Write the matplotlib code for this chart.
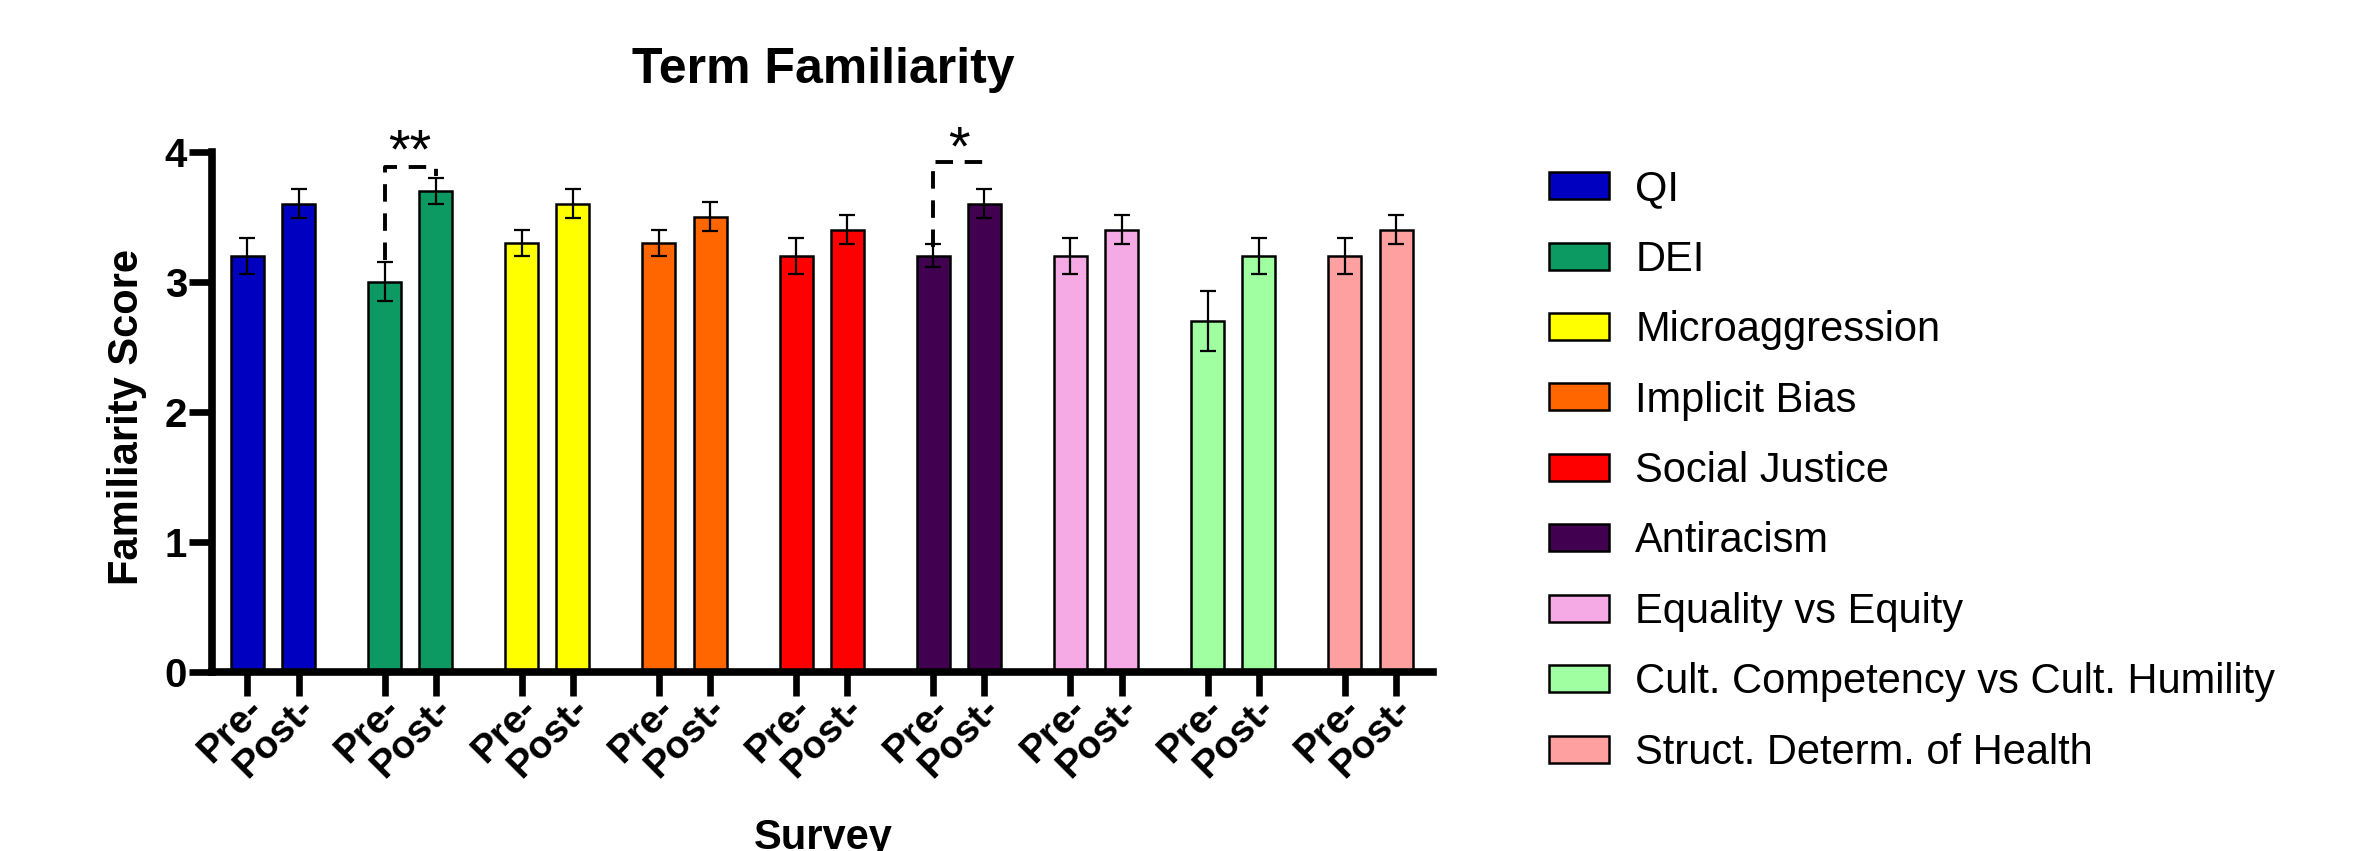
import matplotlib
matplotlib.use("Agg")
import matplotlib.pyplot as plt
from matplotlib.patches import Patch
from matplotlib.transforms import ScaledTranslation
import numpy as np

# ---------------- data ----------------
terms = ["QI", "DEI", "Microaggression", "Implicit Bias", "Social Justice",
         "Antiracism", "Equality vs Equity", "Cult. Competency vs Cult. Humility",
         "Struct. Determ. of Health"]
colors = ["#0000C0", "#0C9A62", "#FFFF00", "#FF6600", "#FF0000",
          "#420050", "#F5AAE5", "#A0FFA0", "#FFA0A0"]
pre_means = [3.2, 3.0, 3.3, 3.3, 3.2, 3.2, 3.2, 2.7, 3.2]
pre_err = [0.14, 0.15, 0.10, 0.10, 0.14, 0.09, 0.14, 0.23, 0.14]
post_means = [3.6, 3.7, 3.6, 3.5, 3.4, 3.6, 3.4, 3.2, 3.4]
post_err = [0.11, 0.10, 0.11, 0.11, 0.11, 0.11, 0.11, 0.14, 0.11]
tick_names = ["Pre-", "Post-"]
yticks = [0, 1, 2, 3, 4]
# significance brackets: group index, left bottom, top, right bottom, label
sig_groups = [1, 5]
sig_left = [3.17, 3.27]
sig_top = [3.88, 3.92]
sig_right = [3.81, 3.86]
sig_star_y = [3.88, 3.90]
sig_labels = ["**", "*"]

# ---------------- figure ----------------
plt.rcParams['font.family'] = ['Liberation Sans', 'DejaVu Sans']
fig = plt.figure(figsize=(23.53, 8.51), dpi=100)
ax = fig.add_axes([0.0901, 0.2107, 0.5189, 0.611])

n = len(terms)
x = np.arange(n)
off = 0.1866
bw = 0.2405
x_pre = x - off
x_post = x + off

err_kw = dict(ecolor="black", elinewidth=1.6, capsize=5.8, capthick=1.6)
ax.bar(x_pre, pre_means, width=bw, color=colors, edgecolor="black",
       linewidth=1.8, yerr=pre_err, error_kw=err_kw, zorder=2)
ax.bar(x_post, post_means, width=bw, color=colors, edgecolor="black",
       linewidth=1.8, yerr=post_err, error_kw=err_kw, zorder=2)

ax.set_xlim(-0.444, 8.456)
ax.set_ylim(0, 4)

for s in ["top", "right"]:
    ax.spines[s].set_visible(False)
for s in ["left", "bottom"]:
    ax.spines[s].set_linewidth(5.5)
ax.spines["left"].set_bounds(0, 4)

ax.set_yticks(yticks)
ax.set_yticklabels([str(v) for v in yticks], fontsize=29, fontweight="bold")
ax.tick_params(axis="y", length=16.5, width=4.8, pad=1.5)

xt = np.empty(2 * n)
xt[0::2] = x_pre
xt[1::2] = x_post
ax.set_xticks(xt)
ax.set_xticklabels(tick_names * n, fontsize=28, fontweight="bold")
ax.tick_params(axis="x", length=17, width=4.8, pad=6)
offset = ScaledTranslation(10 / 100, 0, fig.dpi_scale_trans)
for lab in ax.get_xticklabels():
    lab.set_rotation(45)
    lab.set_ha("right")
    lab.set_va("center")
    lab.set_rotation_mode("anchor")
    lab.set_transform(lab.get_transform() + offset)

# significance brackets
for g, yl, yt, yr, ys, lbl in zip(sig_groups, sig_left, sig_top, sig_right,
                                  sig_star_y, sig_labels):
    ax.plot([x_pre[g], x_pre[g], x_post[g], x_post[g]], [yl, yt, yt, yr],
            color="black", lw=2.8, dashes=(4.5, 3), dash_capstyle="butt",
            solid_capstyle="butt", clip_on=False, zorder=3)
    ax.text(x[g], ys, lbl, ha="center", va="baseline", fontsize=40,
            clip_on=False)

# titles and labels
fig.text(0.3498, 0.902, "Term Familiarity", ha="center", va="baseline",
         fontsize=36, fontweight="bold")
fig.text(0.0541, 0.51, "Familiarity Score", ha="center", va="center",
         rotation=90, fontsize=30, fontweight="bold")
fig.text(0.3498, 0.0024, "Survey", ha="center", va="baseline",
         fontsize=30, fontweight="bold")

# legend
handles = [Patch(facecolor=c, edgecolor="black", linewidth=1.8) for c in colors]
fig.legend(handles, terms, loc="upper left", bbox_to_anchor=(0.6583, 0.801),
           bbox_transform=fig.transFigure, frameon=False, fontsize=30,
           handlelength=1.45, handleheight=0.62, handletextpad=0.62,
           labelspacing=0.73, borderpad=0, borderaxespad=0)

fig.savefig("out.png", dpi=100)
